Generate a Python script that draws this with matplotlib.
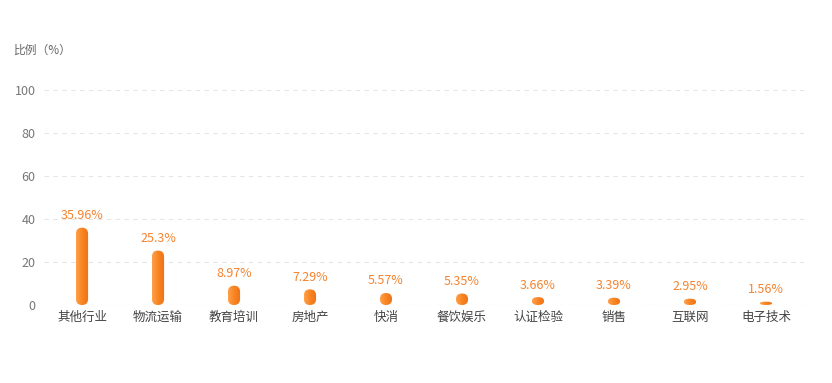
import numpy as np
import matplotlib.pyplot as plt
from matplotlib.patches import FancyBboxPatch
from matplotlib.colors import LinearSegmentedColormap

plt.rcParams['font.family'] = ['Noto Sans CJK SC', 'DejaVu Sans']

categories = ['其他行业', '物流运输', '教育培训', '房地产', '快消', '餐饮娱乐', '认证检验', '销售', '互联网', '电子技术']
values = [35.96, 25.3, 8.97, 7.29, 5.57, 5.35, 3.66, 3.39, 2.95, 1.56]
labels = ['35.96%', '25.3%', '8.97%', '7.29%', '5.57%', '5.35%', '3.66%', '3.39%', '2.95%', '1.56%']
yticks = [0, 20, 40, 60, 80, 100]

fig = plt.figure(figsize=(8.32, 3.83), dpi=100)
ax = fig.add_axes([44 / 832, 78 / 383, 760 / 832, 215 / 383])
ax.set_xlim(-0.5, len(categories) - 0.5)
ax.set_ylim(0, 100)

cmap = LinearSegmentedColormap.from_list('og', ['#ffa04a', '#f7841f', '#f0701a'])
grad = np.linspace(0, 1, 64).reshape(1, -1)

# px per unit: x 76, y 2.15
bw = 0.16
rx = 0.079
for i, v in enumerate(values):
    ry = min(2.79, v / 2)
    p = FancyBboxPatch((i - bw / 2, 0), bw, v,
                       boxstyle=f'round,pad=0,rounding_size={rx}',
                       mutation_aspect=ry / rx, fc='none', ec='none', zorder=3)
    ax.add_patch(p)
    im = ax.imshow(grad, cmap=cmap, extent=(i - bw / 2, i + bw / 2, 0, v),
                   aspect='auto', zorder=3, interpolation='bilinear')
    im.set_clip_path(p)
    ax.annotate(labels[i], (i, v), xytext=(0, 4), textcoords='offset points',
                ha='center', va='bottom', color='#f5832f', fontsize=9)

for y in yticks:
    ax.axhline(y, color='#d0d0d0' if y == 0 else '#e6e6e6', lw=0.8,
               ls=(0, (4, 4)), zorder=1)

for s in ax.spines.values():
    s.set_visible(False)
ax.set_xticks(range(len(categories)))
ax.set_xticklabels(categories, fontsize=9, color='#444444')
ax.set_yticks(yticks)
ax.set_yticklabels([str(t) for t in yticks], fontsize=9, color='#777777')
ax.tick_params(length=0, pad=6)
ax.tick_params(axis='x', pad=4)

fig.text(14 / 832, 1 - 50 / 383, '比例（%）', fontsize=8.5, color='#666666',
         va='center', ha='left')

fig.savefig('out.png', dpi=100)
